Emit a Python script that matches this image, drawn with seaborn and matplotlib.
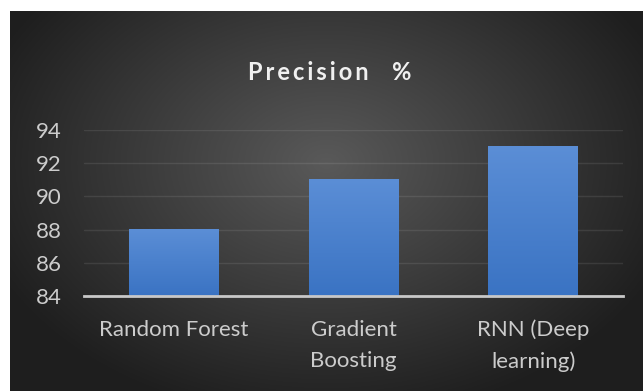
import numpy as np
import pandas as pd
import matplotlib
matplotlib.use("Agg")
import matplotlib.pyplot as plt
import seaborn as sns

categories = ["Random Forest", "Gradient\nBoosting", "RNN (Deep\nlearning)"]
precision = [88, 91, 93]
yticks = [84, 86, 88, 90, 92, 94]
title = "P\u2009r\u2009e\u2009c\u2009i\u2009s\u2009i\u2009o\u2009n\u2003 %"

sns.set_style("dark")
plt.rcParams["font.family"] = ["Lato", "DejaVu Sans"]

W, H = 643, 391
fig = plt.figure(figsize=(W / 100, H / 100), dpi=100)
fig.patch.set_facecolor("white")

# background radial gradient panel
bg = fig.add_axes([10 / W, 0, (W - 10) / W, (H - 11) / H])
bg.set_axis_off()
nx, ny = 400, 250
xx, yy = np.meshgrid(np.linspace(-1, 1, nx), np.linspace(-1, 1, ny))
r = np.sqrt(((xx - 0.0) / 1.1) ** 2 + ((yy + 0.2) / 1.3) ** 2)
val = np.clip(0.35 - 0.22 * r, 0.12, 0.35)
img = np.dstack([val, val, val])
bg.imshow(img, aspect="auto", extent=[0, 1, 0, 1], origin="upper")

ax = fig.add_axes([84 / W, (H - 296) / H, (623 - 84) / W, (296 - 130) / H])
ax.patch.set_alpha(0)
df = pd.DataFrame({"model": categories, "precision": precision})
sns.barplot(data=df, x="model", y="precision", color="#4a82d0", width=0.5,
            saturation=1, ax=ax, zorder=3, edgecolor="none", linewidth=0)
ax.set_ylim(84, 94)
ax.set_xlim(-0.5, len(categories) - 0.5)
ylo = ax.get_ylim()[0]

# vertical gradient fill inside each bar (visible part)
top_c = np.array([0x5b, 0x8e, 0xd6]) / 255
bot_c = np.array([0x3a, 0x73, 0xc3]) / 255
for p in list(ax.patches):
    x0, y0 = p.get_x(), p.get_y()
    w, h = p.get_width(), p.get_height()
    y1 = y0 + h
    t = np.linspace(0, 1, 256)[:, None, None]
    grad = top_c[None, None, :] * (1 - t) + bot_c[None, None, :] * t
    grad = np.repeat(grad, 2, axis=1)
    ax.imshow(grad, extent=[x0, x0 + w, ylo, y1], aspect="auto",
              origin="upper", zorder=4)
    p.set_alpha(0)
ax.set_xlim(-0.5, len(categories) - 0.5)
ax.set_ylim(84, 94)

ax.set_yticks(yticks)
ax.set_yticklabels([str(t) for t in yticks], color="#cccccc", fontsize=16)
ax.tick_params(axis="x", colors="#cccccc", labelsize=16, length=0, pad=17)
ax.tick_params(axis="y", length=0, pad=16)
for lbl in ax.get_xticklabels():
    lbl.set_linespacing(1.7)
ax.set_xlabel("")
ax.set_ylabel("")
ax.grid(axis="y", color="#ffffff", alpha=0.09, linewidth=1)
ax.grid(axis="x", visible=False)
for s in ["top", "right", "left"]:
    ax.spines[s].set_visible(False)
ax.spines["bottom"].set_color("#c8c8c8")
ax.spines["bottom"].set_linewidth(2)
ax.spines["bottom"].set_zorder(5)

fig.text(330 / W, (H - 72) / H, title, ha="center", va="center", color="#f0f0f0",
         fontsize=17, fontweight="bold")

fig.savefig("out.png", dpi=100)
